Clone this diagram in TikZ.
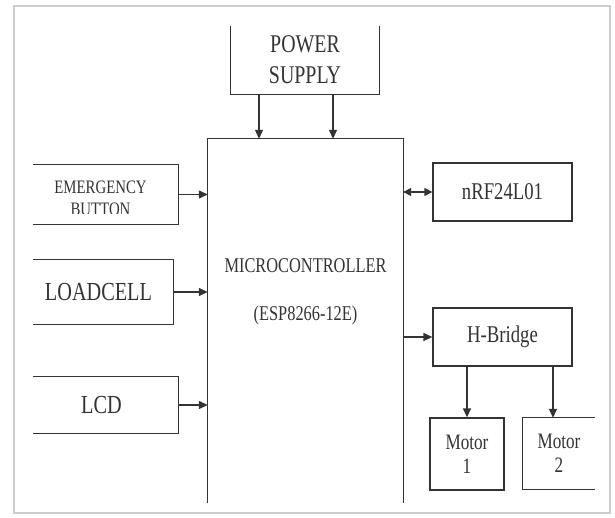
\documentclass[tikz,border=0pt]{standalone}
\usepackage{fontspec}
\newfontfamily\blockfont[FakeStretch=0.78]{Liberation Serif}
\usetikzlibrary{arrows.meta,calc}
\definecolor{LineClr}{rgb}{0.2,0.2,0.2}
\definecolor{FrameClr}{rgb}{0.8,0.8,0.8}
\newcommand{\blkfs}[2]{\blockfont\fontsize{#1}{#2}\selectfont}

\begin{document}
\begin{tikzpicture}[x=1pt,y=-1pt,
  blk/.style={inner sep=0pt,align=center,text=LineClr},
  edge/.style={line width=1.3pt,color=LineClr},
  arr/.style={edge,-{Triangle[length=9pt,width=8pt]}},
  darr/.style={edge,{Triangle[length=8pt,width=8pt]}-{Triangle[length=8pt,width=8pt]}}]

\useasboundingbox (0,0) rectangle (615,518);
\fill[white] (0,0) rectangle (615,518);
\draw[FrameClr,line width=1.5pt] (14,6) rectangle (610,513);

\node[blk,minimum width=148pt,minimum height=68pt,font=\blkfs{25.5}{31}] (ps) at (305,60) {POWER\\SUPPLY};
\node[blk,minimum width=195pt,minimum height=364pt] (mcu) at (305.5,321) {};
\node[blk,font=\blkfs{21}{48}] (mcutxt) at (305.5,292) {MICROCONTROLLER\\(ESP8266-12E)};

\node[blk,minimum width=155pt,minimum height=59pt] (emg) at (100.5,194.5) {};
\node[blk,minimum width=149pt,minimum height=64pt,font=\blkfs{26}{30}] (load) at (98.5,292) {LOADCELL};
\node[blk,minimum width=153pt,minimum height=56pt,font=\blkfs{26}{30}] (lcd) at (101.5,405) {LCD};

\node[blk,draw=LineClr,edge,minimum width=139pt,minimum height=58pt,font=\blkfs{24}{28}] (nrf) at (502.5,192) {nRF24L01};
\node[blk,draw=LineClr,edge,minimum width=139pt,minimum height=58pt,font=\blkfs{24}{28}] (hb) at (502.5,337) {H-Bridge};
\node[blk,draw=LineClr,edge,minimum width=74pt,minimum height=72pt,font=\blkfs{22}{24}] (m1) at (467,454) {Motor\\1};
\node[blk,minimum width=72pt,minimum height=71pt,font=\blkfs{22}{24}] (m2) at (559,453.5) {Motor\\2};
\coordinate (m2tip) at ([xshift=-6pt]m2.north);

\begin{scope}
\clip (33,165) rectangle (178,214);
\node[blk,font=\blkfs{19}{22}] (emgtxt) at (100.5,198) {EMERGENCY\\BUTTON};
\end{scope}

\draw[edge] (ps.north west) -- (ps.south west) -- (ps.south east) -- (ps.north east);
\draw[edge] (mcu.south west) -- (mcu.north west) -- (mcu.north east) -- (mcu.south east);
\draw[edge] ([xshift=10pt]emg.north west) -- (emg.north east) -- (emg.south east) -- ([xshift=10pt]emg.south west);
\draw[edge] ([xshift=9pt]load.north west) -- (load.north east) -- (load.south east) -- ([xshift=9pt]load.south west);
\draw[edge] ([xshift=8pt]lcd.north west) -- (lcd.north east) -- (lcd.south east) -- ([xshift=8pt]lcd.south west);
\draw[edge] (m2.north east) -- (m2.north west) -- (m2.south west) -- (m2.south east);

\draw[arr] ([xshift=-46pt]ps.south) -- ([xshift=-46pt]ps.south |- mcu.north);
\draw[arr] ([xshift=28pt]ps.south) -- ([xshift=28pt]ps.south |- mcu.north);
\draw[arr] (emg.east) -- (emg.east -| mcu.west);
\draw[arr] (load.east) -- (load.east -| mcu.west);
\draw[arr] (lcd.east) -- (lcd.east -| mcu.west);
\draw[darr] (nrf.west -| mcu.east) -- (nrf.west);
\draw[arr] (hb.west -| mcu.east) -- (hb.west);
\draw[arr] (hb.south -| m1.north) -- (m1.north);
\draw[arr] (hb.south -| m2tip) -- (m2tip);

\end{tikzpicture}
\end{document}
